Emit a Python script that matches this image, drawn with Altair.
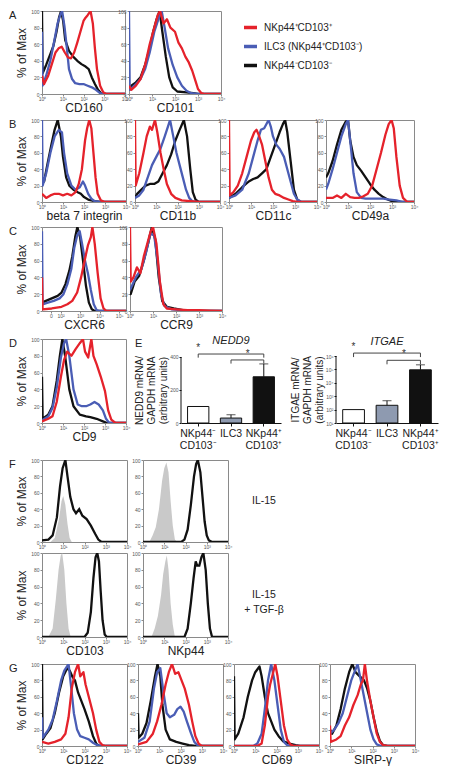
import altair as alt
import pandas as pd

FONT = "Liberation Sans"
SERIES = ["NKp44⁺CD103⁺", "ILC3 (NKp44⁺CD103⁻)", "NKp44⁻CD103⁻"]
COLORS = ["#e5222b", "#4a5db5", "#111111"]

LOG_TICKS = [0, 1, 2, 3, 4]
LOG_LABELS = ["10⁰", "10¹", "10²", "10³", "10⁴"]
CXCR6_TICKS = [0.45, 0.95, 1.95, 2.95, 3.95]
CXCR6_LABELS = ["0", "10²", "10³", "10⁴", "10⁵"]
PCT_TICKS = [0, 20, 40, 60, 80, 100]

# ---- A ----
CD160_black = [(0,100),(0.03,25),(0.2,35),(0.4,48),(0.55,58),(0.7,75),(0.82,92),(0.92,100),(1.02,88),(1.12,65),(1.3,52),(1.5,45),(1.7,40),(1.9,36),(2.1,33),(2.25,30),(2.4,20),(2.55,12),(2.7,5),(2.85,1),(3.0,0),(4,0)]
CD160_blue = [(0,75),(0.03,10),(0.2,22),(0.4,40),(0.6,65),(0.75,85),(0.9,97),(0.97,100),(1.08,82),(1.2,55),(1.3,30),(1.45,18),(1.6,13),(1.8,12),(2.0,12),(2.2,10),(2.4,8),(2.6,5),(2.8,1),(3.0,0),(4,0)]
CD160_red = [(0,22),(0.1,12),(0.3,22),(0.5,38),(0.65,50),(0.8,55),(0.95,57),(1.1,50),(1.25,44),(1.4,43),(1.55,50),(1.7,62),(1.85,75),(2.0,88),(2.1,92),(2.2,95),(2.34,100),(2.45,85),(2.55,55),(2.65,30),(2.8,10),(2.95,2),(3.1,0),(4,0)]

CD101_black = [(0,5),(0.1,10),(0.3,14),(0.5,20),(0.7,35),(0.9,55),(1.05,75),(1.2,90),(1.33,100),(1.45,75),(1.6,45),(1.75,20),(1.9,8),(2.1,3),(2.5,2),(2.8,1),(3.0,0),(4,0)]
CD101_blue = [(0,100),(0.03,5),(0.3,12),(0.5,18),(0.7,30),(0.9,50),(1.1,75),(1.3,92),(1.42,100),(1.55,80),(1.7,55),(1.9,35),(2.1,20),(2.3,10),(2.5,4),(2.7,1),(3.0,0),(4,0)]
CD101_red = [(0,10),(0.1,5),(0.3,10),(0.5,18),(0.7,35),(0.9,60),(1.1,80),(1.25,95),(1.35,100),(1.5,85),(1.65,90),(1.8,80),(2.0,75),(2.15,62),(2.3,55),(2.45,45),(2.6,38),(2.75,28),(2.9,15),(3.0,6),(3.15,1),(3.3,0),(4,0)]

# ---- B ----
B7_black = [(0,30),(0.1,25),(0.25,45),(0.45,70),(0.6,88),(0.75,100),(0.9,80),(1.0,55),(1.15,30),(1.3,20),(1.5,15),(1.7,12),(1.85,10),(2.0,6),(2.2,3),(2.5,1),(2.8,0),(4,0)]
B7_blue = [(0,100),(0.03,20),(0.2,35),(0.4,60),(0.6,80),(0.8,88),(0.95,85),(1.05,60),(1.2,35),(1.4,20),(1.6,15),(1.8,18),(1.95,25),(2.05,20),(2.2,10),(2.35,4),(2.5,1),(2.8,0),(4,0)]
B7_red = [(0,10),(0.2,5),(0.4,8),(0.6,10),(0.8,10),(1.0,8),(1.2,10),(1.4,8),(1.6,12),(1.75,22),(1.9,40),(2.05,75),(2.15,90),(2.25,100),(2.35,90),(2.45,60),(2.55,30),(2.65,10),(2.8,2),(3.0,0),(4,0)]

CD11b_black = [(0,5),(0.1,10),(0.3,15),(0.5,20),(0.7,22),(0.9,22),(1.1,25),(1.3,35),(1.5,45),(1.7,58),(1.9,75),(2.1,88),(2.3,100),(2.45,80),(2.6,40),(2.72,12),(2.85,3),(3.0,0),(4,0)]
CD11b_blue = [(0,5),(0.2,8),(0.4,15),(0.6,30),(0.8,45),(1.0,55),(1.2,65),(1.4,80),(1.55,92),(1.65,100),(1.8,80),(1.95,60),(2.1,45),(2.25,30),(2.4,15),(2.55,5),(2.7,1),(2.9,0),(4,0)]
CD11b_red = [(0,100),(0.03,20),(0.2,35),(0.4,60),(0.55,80),(0.7,92),(0.8,88),(0.94,100),(1.05,85),(1.2,60),(1.35,40),(1.5,22),(1.7,10),(1.9,5),(2.2,2),(2.6,1),(3.0,0),(4,0)]

CD11c_black = [(0,5),(0.3,10),(0.6,18),(0.9,25),(1.1,28),(1.3,30),(1.5,35),(1.7,40),(1.9,55),(2.1,70),(2.3,85),(2.45,95),(2.55,100),(2.65,85),(2.8,50),(2.95,15),(3.1,3),(3.25,0),(4,0)]
CD11c_blue = [(0,5),(0.3,8),(0.6,15),(0.9,35),(1.1,55),(1.3,75),(1.45,88),(1.6,90),(1.8,100),(1.9,92),(2.0,80),(2.15,70),(2.3,65),(2.5,55),(2.65,40),(2.8,25),(2.95,10),(3.1,3),(3.3,0),(4,0)]
CD11c_red = [(0,100),(0.03,8),(0.2,12),(0.4,20),(0.6,35),(0.8,55),(1.0,75),(1.15,85),(1.25,88),(1.35,82),(1.5,70),(1.65,50),(1.8,30),(1.95,15),(2.1,10),(2.3,8),(2.5,5),(2.7,3),(2.9,1),(3.1,0),(4,0)]

CD49a_black = [(0,30),(0.1,35),(0.3,50),(0.5,70),(0.7,88),(0.9,98),(1.0,100),(1.1,75),(1.25,55),(1.4,45),(1.6,38),(1.8,30),(2.0,22),(2.2,15),(2.4,10),(2.6,6),(2.8,3),(3.0,1),(3.2,0),(4,0)]
CD49a_blue = [(0,15),(0.1,22),(0.3,40),(0.5,60),(0.7,80),(0.9,95),(1.0,100),(1.1,75),(1.25,35),(1.4,12),(1.6,5),(1.8,4),(2.0,4),(2.3,4),(2.6,4),(2.9,3),(3.2,2),(3.5,0),(4,0)]
CD49a_red = [(0,5),(0.3,5),(0.5,8),(0.7,5),(0.9,10),(1.1,6),(1.3,5),(1.5,5),(1.7,7),(1.9,10),(2.1,20),(2.3,40),(2.5,60),(2.7,82),(2.85,95),(2.98,100),(3.08,90),(3.2,55),(3.35,20),(3.5,5),(3.7,0),(4,0)]

# ---- C ----
CXCR6_black = [(0,10),(0.2,12),(0.5,15),(0.8,18),(1.0,22),(1.2,32),(1.4,48),(1.55,65),(1.7,88),(1.81,100),(1.95,88),(2.1,60),(2.25,30),(2.4,10),(2.55,2),(2.7,0),(4.3,0)]
CXCR6_blue = [(0,95),(0.03,8),(0.3,10),(0.6,12),(0.9,15),(1.1,20),(1.3,32),(1.5,50),(1.65,75),(1.8,90),(1.93,95),(2.05,80),(2.2,60),(2.35,45),(2.5,25),(2.65,8),(2.8,1),(2.95,0),(4.3,0)]
CXCR6_red = [(0,40),(0.03,2),(0.5,3),(1.0,5),(1.3,8),(1.55,12),(1.8,22),(2.0,40),(2.2,62),(2.35,78),(2.5,88),(2.58,100),(2.7,80),(2.85,45),(3.0,15),(3.15,3),(3.3,0),(4.3,0)]

CCR9_black = [(0,20),(0.03,20),(0.2,35),(0.4,42),(0.6,60),(0.8,82),(0.95,100),(1.1,85),(1.25,40),(1.4,12),(1.6,5),(1.9,3),(2.3,1),(3.0,0),(4,0)]
CCR9_blue = [(0,25),(0.25,40),(0.5,50),(0.7,70),(0.88,92),(1.05,90),(1.2,60),(1.35,20),(1.5,6),(1.8,2),(2.5,0.5),(3,0),(4,0)]
CCR9_red = [(0,100),(0.03,35),(0.15,40),(0.3,52),(0.45,45),(0.6,65),(0.75,80),(0.9,95),(1.0,100),(1.15,80),(1.3,35),(1.45,8),(1.6,3),(2.0,2),(2.5,1),(3.0,1),(3.5,0.5),(4,0)]

# ---- D ----
CD9_black = [(0,55),(0.03,5),(0.3,10),(0.5,20),(0.7,50),(0.85,80),(0.97,100),(1.1,80),(1.3,40),(1.5,20),(1.8,10),(2.1,8),(2.3,7),(2.6,5),(2.9,2),(3.1,0),(4,0)]
CD9_blue = [(0,3),(0.3,8),(0.5,18),(0.7,42),(0.9,78),(1.05,95),(1.15,100),(1.3,80),(1.5,40),(1.7,22),(1.9,20),(2.1,20),(2.3,22),(2.5,25),(2.7,22),(2.9,15),(3.05,5),(3.2,0),(4,0)]
CD9_red = [(0,2),(0.3,5),(0.5,8),(0.7,25),(0.9,55),(1.05,75),(1.2,85),(1.4,80),(1.6,88),(1.8,95),(1.95,100),(2.05,85),(2.2,78),(2.35,100),(2.45,80),(2.6,70),(2.8,55),(3.0,38),(3.15,15),(3.3,4),(3.5,0),(4,0)]

# ---- E ----
BAR_CATS = ["NKp44⁻\nCD103⁻", "ILC3", "NKp44⁺\nCD103⁺"]
BAR_FILLS = ["#ffffff", "#8e9ab0", "#111111"]
NEDD9_VALS = [100, 30, 280]
NEDD9_ERR = [None, 50, 358]
NEDD9_BRACKETS = [418, 382]
ITGAE_VALS = [100, 210, 93000]
ITGAE_ERR = [None, 460, 220000]
ITGAE_BRACKETS = [10 ** 6.22, 10 ** 5.68]

# ---- F ----
F_CD103_IL15_iso = [(0.4,0),(0.6,5),(0.8,28),(0.92,50),(1.0,56),(1.1,45),(1.2,22),(1.3,5),(1.4,0)]
F_CD103_IL15 = [(0,2),(0.3,3),(0.5,8),(0.7,30),(0.85,68),(0.97,90),(1.1,100),(1.2,80),(1.33,55),(1.48,40),(1.6,35),(1.75,40),(1.9,32),(2.1,28),(2.3,20),(2.5,10),(2.65,3),(2.8,0),(4,0)]
F_NKp44_IL15_iso = [(0.3,0),(0.45,8),(0.6,18),(0.75,40),(0.9,75),(1.0,90),(1.1,97),(1.2,85),(1.3,50),(1.4,20),(1.5,3),(1.6,0)]
F_NKp44_IL15 = [(0,0),(1.8,0),(1.95,3),(2.1,15),(2.25,45),(2.4,80),(2.5,95),(2.58,100),(2.7,85),(2.8,55),(2.9,25),(3.0,8),(3.1,2),(3.25,0),(4,0)]
F_CD103_TGF_iso = [(0.3,0),(0.5,10),(0.65,45),(0.78,80),(0.88,97),(0.95,100),(1.05,80),(1.15,40),(1.25,10),(1.35,0)]
F_CD103_TGF = [(0,0),(2.0,0),(2.15,5),(2.3,30),(2.42,70),(2.52,95),(2.6,100),(2.68,90),(2.76,55),(2.85,20),(2.95,3),(3.05,0),(4,0)]
F_NKp44_TGF_iso = [(0.4,0),(0.55,10),(0.7,25),(0.85,50),(0.95,75),(1.05,90),(1.12,97),(1.2,80),(1.3,40),(1.4,15),(1.5,0)]
F_NKp44_TGF = [(0,0),(1.95,0),(2.1,10),(2.25,40),(2.38,70),(2.48,90),(2.55,85),(2.65,85),(2.75,95),(2.84,100),(2.95,80),(3.05,40),(3.15,10),(3.25,0),(4,0)]

# ---- G ----
CD122_black = [(0,100),(0.03,8),(0.2,15),(0.4,22),(0.6,40),(0.8,65),(1.0,85),(1.19,95),(1.3,92),(1.42,85),(1.55,80),(1.7,65),(1.85,55),(2.0,45),(2.2,30),(2.4,12),(2.55,3),(2.7,0),(4,0)]
CD122_blue = [(0,35),(0.03,10),(0.3,20),(0.5,32),(0.7,55),(0.9,80),(1.05,92),(1.25,100),(1.38,70),(1.5,40),(1.65,20),(1.8,12),(2.0,10),(2.2,8),(2.4,4),(2.6,1),(2.8,0),(4,0)]
CD122_red = [(0,5),(0.3,3),(0.6,5),(0.9,8),(1.1,15),(1.25,35),(1.4,70),(1.55,90),(1.7,100),(1.8,85),(1.95,90),(2.05,75),(2.2,60),(2.4,40),(2.55,20),(2.7,5),(2.85,1),(3.0,0),(4,0)]

CD39_black = [(0,40),(0.03,10),(0.2,15),(0.4,28),(0.6,55),(0.8,85),(0.92,100),(1.05,85),(1.15,50),(1.3,20),(1.5,8),(1.8,5),(2.1,3),(2.4,1),(2.7,0),(4,0)]
CD39_blue = [(0,5),(0.3,10),(0.55,30),(0.75,70),(0.9,90),(1.05,95),(1.2,65),(1.35,40),(1.5,35),(1.7,38),(1.85,45),(2.0,48),(2.15,42),(2.3,30),(2.5,15),(2.65,5),(2.8,1),(3.0,0),(4,0)]
CD39_red = [(0,2),(0.4,5),(0.7,15),(0.9,30),(1.1,50),(1.3,75),(1.45,90),(1.6,100),(1.75,88),(1.9,90),(2.05,80),(2.2,70),(2.4,50),(2.55,30),(2.7,12),(2.85,3),(3.0,0),(4,0)]

CD69_black = [(0,85),(0.03,8),(0.2,15),(0.45,35),(0.65,60),(0.85,80),(1.0,90),(1.2,97),(1.3,85),(1.45,60),(1.6,40),(1.75,30),(1.9,20),(2.1,12),(2.3,6),(2.6,3),(2.9,1),(3.1,0),(4,0)]
CD69_blue = [(0,0),(0.9,0),(1.1,3),(1.3,15),(1.45,45),(1.6,80),(1.75,100),(1.9,80),(2.05,50),(2.2,20),(2.35,5),(2.5,1),(2.7,0),(4,0)]
CD69_red = [(0,0),(1.1,0),(1.3,3),(1.45,25),(1.6,60),(1.7,75),(1.8,85),(1.94,100),(2.05,85),(2.2,55),(2.35,25),(2.5,8),(2.65,2),(2.8,0),(4,0)]

SIRP_black = [(0,20),(0.1,15),(0.3,25),(0.5,45),(0.7,70),(0.9,90),(1.05,100),(1.2,90),(1.4,85),(1.6,80),(1.75,70),(1.9,55),(2.05,35),(2.2,18),(2.35,6),(2.5,1),(2.7,0),(4,0)]
SIRP_blue = [(0,15),(0.2,20),(0.4,28),(0.6,40),(0.8,60),(1.0,80),(1.15,90),(1.3,100),(1.45,80),(1.6,60),(1.75,40),(1.9,20),(2.05,8),(2.2,2),(2.4,0),(4,0)]
SIRP_red = [(0,25),(0.03,5),(0.3,8),(0.5,12),(0.7,25),(0.9,35),(1.1,50),(1.3,62),(1.45,75),(1.55,80),(1.64,100),(1.75,78),(1.9,55),(2.05,35),(2.2,15),(2.35,5),(2.5,1),(2.7,0),(4,0)]


def label_expr(vals, labels):
    arr = "[" + ",".join("'" + l + "'" for l in labels) + "]"
    v = "[" + ",".join(str(x) for x in vals) + "]"
    return arr + "[indexof(" + v + ", datum.value)]"


def letter_mark(t, x=-33, y=5):
    return alt.Chart(pd.DataFrame({"t": [t]})).mark_text(
        fontSize=11, align="left", baseline="middle", color="#222").encode(
        x=alt.value(x), y=alt.value(y), text="t:N")


def x_enc(xtitle, ticks, labels, xmax):
    return alt.X("x:Q", scale=alt.Scale(domain=[0, xmax], nice=False, zero=False),
                 axis=alt.Axis(values=ticks, labelExpr=label_expr(ticks, labels), title=xtitle,
                               labelFlush=False, labelOverlap=False, domain=False, grid=False,
                               tickSize=2, labelFontSize=5, labelPadding=0, titleFontSize=12,
                               titlePadding=1, titleFontWeight="normal", titleColor="#222"))


def y_enc(ytitle):
    return alt.Y("y:Q", scale=alt.Scale(domain=[0, 100], nice=False),
                 axis=alt.Axis(values=PCT_TICKS, title="% of Max" if ytitle else None,
                               labelFlush=False, labelOverlap=False, domain=False, grid=False,
                               tickSize=2, labelFontSize=5, labelPadding=1, titleFontSize=12,
                               titlePadding=2, titleFontWeight="normal", titleColor="#222"))


def hist(xtitle, black, blue, red, w, h, ytitle=False, letter=None, legend=None,
         ticks=LOG_TICKS, labels=LOG_LABELS, xmax=4.0):
    xe = x_enc(xtitle, ticks, labels, xmax)
    ye = y_enc(ytitle)
    cscale = alt.Scale(domain=SERIES, range=COLORS)
    layers = []
    for s, pts in ((SERIES[2], black), (SERIES[1], blue), (SERIES[0], red)):
        df = pd.DataFrame(pts, columns=["x", "y"])
        df["s"] = s
        layers.append(alt.Chart(df).mark_line(strokeWidth=2.3, clip=True, strokeJoin="round").encode(
            x=xe, y=ye, color=alt.Color("s:N", scale=cscale, legend=legend)))
    if letter:
        layers.append(letter_mark(letter))
    return alt.layer(*layers).properties(width=w, height=h)


def fpanel(xtitle, iso, stain, w, h, ytitle=False, letter=None, side=None):
    xe = x_enc(xtitle, LOG_TICKS, LOG_LABELS, 4.0)
    ye = y_enc(ytitle)
    layers = [
        alt.Chart(pd.DataFrame(iso, columns=["x", "y"])).mark_area(color="#c9c9c9", clip=True).encode(x=xe, y=ye),
        alt.Chart(pd.DataFrame(stain, columns=["x", "y"])).mark_line(color="#111", strokeWidth=2.3, clip=True).encode(x=xe, y=ye),
    ]
    if side:
        layers.append(alt.Chart(pd.DataFrame({"t": [side]})).mark_text(
            align="center", baseline="middle", fontSize=10.5, lineBreak="\n", lineHeight=15, color="#222").encode(
            x=alt.value(w + 36), y=alt.value(h / 2), text="t:N"))
    if letter:
        layers.append(letter_mark(letter))
    return alt.layer(*layers).properties(width=w, height=h)


def barpanel(gene, vals, errs, brackets, w, h, log=False, letter=None):
    if log:
        base = 10
        yscale = alt.Scale(type="log", domain=[10, 10 ** 7.27], nice=False)
        yvals = [10, 100, 1000, 10000, 100000, 1000000]
        ylab = "'10' + ['⁰','¹','²','³','⁴','⁵','⁶'][round(log(datum.value)/LN10)]"
        span = [10, 1000000]
        drop = 10 ** -0.3
        title_y = 50.5
    else:
        base = 0
        yscale = alt.Scale(domain=[0, 509], nice=False)
        yvals = [0, 100, 200, 300, 400]
        ylab = "datum.label"
        span = [0, 400]
        drop = None
        title_y = 51
    df = pd.DataFrame({"cat": BAR_CATS, "v": vals, "err": errs, "fill": BAR_FILLS, "base": [base] * 3})
    xe = alt.X("cat:N", sort=BAR_CATS,
               scale=alt.Scale(domain=BAR_CATS, paddingInner=0.35, paddingOuter=0.2),
               axis=alt.Axis(title=None, labelAngle=0, labelExpr="split(datum.label, '\\n')",
                             labelFontSize=10.5, labelLineHeight=12, labelPadding=2, tickSize=3,
                             domain=True, domainColor="#111", tickColor="#111", labelColor="#222",
                             labelBaseline="top"))
    ye = alt.Y("v:Q", scale=yscale,
               axis=alt.Axis(values=yvals, labelExpr=ylab, domain=False, grid=False, tickSize=2,
                             tickColor="#111", labelFontSize=5, labelPadding=1, labelFlush=False,
                             labelOverlap=False,
                             title=[gene + " mRNA/", "GAPDH mRNA", "(arbitrary units)"],
                             titleFontSize=10, titleLineHeight=12, titlePadding=1, titleY=title_y,
                             titleFontWeight="normal", titleColor="#222"))
    bars = alt.Chart(df).mark_bar(stroke="#111", strokeWidth=1).encode(
        x=xe, y=ye, y2="base:Q", fill=alt.Fill("fill:N", scale=None))
    edf = df.dropna(subset=["err"])
    err_rule = alt.Chart(edf).mark_rule(color="#111", strokeWidth=1).encode(x=xe, y="v:Q", y2="err:Q")
    err_cap = alt.Chart(edf).mark_tick(color="#111", thickness=1, size=9, orient="horizontal").encode(x=xe, y=alt.Y("err:Q"))
    axis_line = alt.Chart(pd.DataFrame({"lo": [span[0]], "hi": [span[1]]})).mark_rule(color="#111").encode(
        x=alt.value(0), y="lo:Q", y2="hi:Q")
    if drop is None:
        lows = [b - 22 for b in brackets]
    else:
        lows = [b * drop for b in brackets]
    bdf = pd.DataFrame({"a": [BAR_CATS[0], BAR_CATS[1]], "b": [BAR_CATS[2], BAR_CATS[2]],
                        "y": brackets, "lo": lows})
    hline = alt.Chart(bdf).mark_rule(color="#444").encode(x=alt.X("a:N", sort=BAR_CATS), x2="b:N", y="y:Q")
    lend = alt.Chart(bdf).mark_rule(color="#444").encode(x=alt.X("a:N", sort=BAR_CATS), y="y:Q", y2="lo:Q")
    rend = alt.Chart(bdf).mark_rule(color="#444").encode(x=alt.X("b:N", sort=BAR_CATS), y="y:Q", y2="lo:Q")
    star1 = alt.Chart(bdf.iloc[[0]]).mark_text(text="*", fontSize=10, dy=-1, baseline="bottom", color="#333").encode(
        x=alt.X("a:N", sort=BAR_CATS), y="y:Q")
    star2 = alt.Chart(bdf.iloc[[1]]).mark_text(text="*", fontSize=10, dy=-1, dx=w / 6, baseline="bottom", color="#333").encode(
        x=alt.X("a:N", sort=BAR_CATS), y="y:Q")
    layers = [bars, err_rule, err_cap, axis_line, hline, lend, rend, star1, star2]
    if letter:
        layers.append(letter_mark(letter, x=-46, y=5))
    ch = alt.layer(*layers).properties(
        width=w, height=h, view=alt.ViewBackground(stroke=None),
        title=alt.TitleParams(text=gene, fontStyle="italic", fontSize=11, fontWeight="normal",
                              anchor="middle", frame="group", offset=0, dy=17, baseline="alphabetic",
                              color="#222"))
    return ch


LEG = alt.Legend(orient="none", legendX=113, legendY=8, title=None, symbolType="stroke",
                 symbolStrokeWidth=3.5, symbolSize=170, labelFontSize=10, labelFont=FONT,
                 rowPadding=3, labelOffset=5, labelColor="#222")

A1 = hist("CD160", CD160_black, CD160_blue, CD160_red, 83, 83, ytitle=True, letter="A")
A2 = hist("CD101", CD101_black, CD101_blue, CD101_red, 92, 83, legend=LEG)

B1 = hist("beta 7 integrin", B7_black, B7_blue, B7_red, 84, 82, ytitle=True, letter="B")
B2 = hist("CD11b", CD11b_black, CD11b_blue, CD11b_red, 85, 82)
B3 = hist("CD11c", CD11c_black, CD11c_blue, CD11c_red, 88, 82)
B4 = hist("CD49a", CD49a_black, CD49a_blue, CD49a_red, 88, 82)

C1 = hist("CXCR6", CXCR6_black, CXCR6_blue, CXCR6_red, 84, 84, ytitle=True, letter="C",
          ticks=CXCR6_TICKS, labels=CXCR6_LABELS, xmax=4.3)
C2 = hist("CCR9", CCR9_black, CCR9_blue, CCR9_red, 92, 84)

D1 = hist("CD9", CD9_black, CD9_blue, CD9_red, 84, 84, ytitle=True, letter="D")
E1 = barpanel("NEDD9", NEDD9_VALS, NEDD9_ERR, NEDD9_BRACKETS, 100, 84, letter="E")
E2 = barpanel("ITGAE", ITGAE_VALS, ITGAE_ERR, ITGAE_BRACKETS, 102, 84, log=True)

F1 = fpanel(None, F_CD103_IL15_iso, F_CD103_IL15, 85, 82, ytitle=True, letter="F")
F2 = fpanel(None, F_NKp44_IL15_iso, F_NKp44_IL15, 85, 82, side="IL-15")
F3 = fpanel("CD103", F_CD103_TGF_iso, F_CD103_TGF, 85, 84, ytitle=True, letter=" ")
F4 = fpanel("NKp44", F_NKp44_TGF_iso, F_NKp44_TGF, 85, 84, side="IL-15\n+ TGF-β")

G1 = hist("CD122", CD122_black, CD122_blue, CD122_red, 85, 82, ytitle=True, letter="G")
G2 = hist("CD39", CD39_black, CD39_blue, CD39_red, 85, 82)
G3 = hist("CD69", CD69_black, CD69_blue, CD69_red, 85, 82)
G4 = hist("SIRP-γ", SIRP_black, SIRP_blue, SIRP_red, 85, 82)


def H(*c, sp):
    # a row: plot areas placed side by side (flush) with the given gap
    return alt.hconcat(*c, spacing=sp, bounds="flush").resolve_scale(color="independent")


def V(a, b, sp):
    # stacking rows: gap between full bounding boxes
    return alt.vconcat(a, b, spacing=sp).resolve_scale(color="independent")


rowA = H(A1, A2, sp=4)
rowB = H(B1, B2, B3, B4, sp=9)
rowC = H(C1, C2, sp=4)
rowD = H(D1, E1, E2, sp=55)
rowF1 = H(F1, F2, sp=16)
rowF2 = H(F3, F4, sp=16)
rowG = H(G1, G2, G3, G4, sp=11)

stack = V(rowA, rowB, 3)
stack = V(stack, rowC, 2)
stack = V(stack, rowD, 4)
stack = V(stack, rowF1, 6)
stack = V(stack, rowF2, 0)
stack = V(stack, rowG, 4)

chart = stack.properties(padding=0, background="white").configure(font=FONT).configure_view(
    stroke="#8a8a8a", strokeWidth=1).configure_axis(
    labelColor="#555", tickColor="#888", labelFont=FONT, titleFont=FONT).configure_title(font=FONT)

chart.save("out.html", embed_options={"renderer": "svg", "actions": False})
